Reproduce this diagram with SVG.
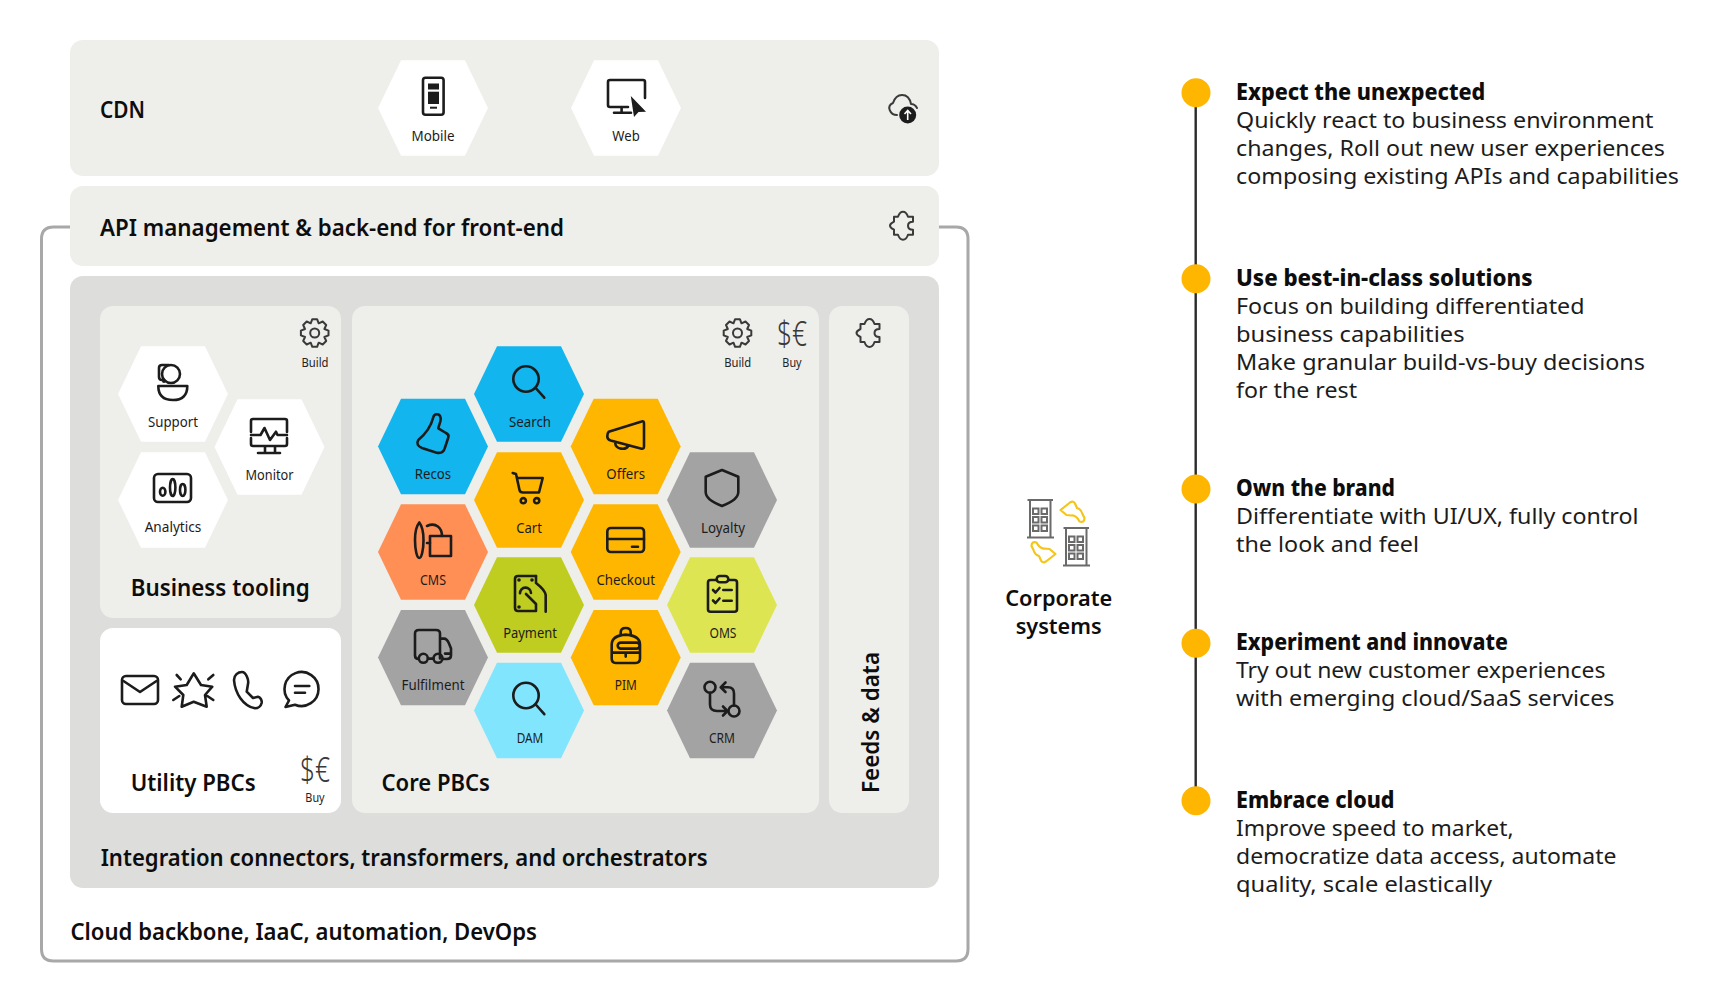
<svg xmlns="http://www.w3.org/2000/svg" xmlns:xlink="http://www.w3.org/1999/xlink" width="1730" height="998" viewBox="0 0 1730 998">
<style>
text{font-family:"Noto Sans","Open Sans","Liberation Sans",sans-serif;fill:#141414}
.h{font-size:23px;font-weight:600;fill:#0d0d0d}
.h2{font-size:22px;font-weight:600;fill:#0d0d0d}
.lab{font-size:14px;text-anchor:middle;fill:#1c1c1c}
.sm{font-size:12.5px;text-anchor:middle;fill:#222}
.t{font-size:22.5px;font-weight:800;fill:#0d0d0d}
.b{font-size:22.5px;fill:#1c1c1c}
.ic{fill:none;stroke:#1c1c1c;stroke-width:2.6;stroke-linecap:round;stroke-linejoin:round}
.ict{fill:none;stroke:#3a3a3a;stroke-width:2;stroke-linejoin:round;stroke-linecap:round}
.fd{fill:#1c1c1c;stroke:none}
.panel{fill:#eeeeeb}
.cur{font-size:35px;font-weight:300;fill:#3a3a3a;text-anchor:middle}
.bl{fill:none;stroke:#6a6a6a;stroke-width:2}
</style>
<defs>
<polygon id="hex" points="-55,0 -32,-47.7 32,-47.7 55,0 32,47.7 -32,47.7"/>
<path id="gear" class="ict" d="M13.8-2.4L13.8 2.4 9.7 4 11.5 8 8 11.5 4 9.7 2.4 13.8-2.4 13.8-4 9.7-8 11.5-11.5 8-9.7 4-13.8 2.4-13.8-2.4-9.7-4-11.5-8-8-11.5-4-9.7-2.4-13.8 2.4-13.8 4-9.7 8-11.5 11.5-8 9.7-4ZM4.5 0A4.5 4.5 0 1 1-4.5 0 4.5 4.5 0 1 1 4.5 0Z"/>
<path id="puzzle" class="ict" d="M-5-9C-4-12-2-14 0-14 2-14 4-12 5-9L10-9 10-4C6-4 5-2 5 0 5 2 6 4 10 4L10 9 5 9C4 12 2 14 0 14-2 14-4 12-5 9L-9 9-9 4C-11 3-13 2-13 0-13-2-11-3-9-4L-9-9Z"/>
<g id="search" class="ic"><circle cx="-3" cy="-15" r="12.7"/><path d="M6.7-6L15.3 3.7"/></g>
<g id="building"><path class="bl" d="M-9.5 0V37M11 0V37M-12.5 38H14.5"/><path class="bl" stroke-width="3" d="M-12 0.5H13.5"/><path class="bl" stroke-width="1.6" d="M-6.5 9h5.5v5.5h-5.5zM2 9h5.5v5.5h-5.5zM-6.5 17.5h5.5v5.5h-5.5zM2 17.5h5.5v5.5h-5.5zM-6.5 26h5.5v5.5h-5.5zM2 26h5.5v5.5h-5.5z"/></g>
<path id="hand" fill="none" stroke="#f5c518" stroke-width="2.2" stroke-linejoin="round" d="M1060.500 510L1070 502.500Q1073.500 500.500 1075 503.500L1077 508Q1081 509 1082.500 514L1084.500 518Q1084.500 523 1079.500 521.500 1076 515 1071.500 515.500L1066.500 515Z"/>
</defs>

<g id="connectors">
<path fill="none" stroke="#a8a8a8" stroke-width="3" d="M70 227H53.500Q41.500 227 41.500 239V949Q41.500 961 53.500 961H956Q968 961 968 949V239Q968 227 956 227H939"/>
<path fill="none" stroke="#2a2a2a" stroke-width="2.4" d="M1195.700 93V801"/>
</g>

<g id="cdn">
<rect class="panel" x="70" y="40" width="869" height="136" rx="13"/>
<text class="h" x="100" y="118" textLength="45" lengthAdjust="spacingAndGlyphs">CDN</text>
<g transform="translate(903 109)"><path class="ict" d="M-6 6C-13 6-17-3-10-6-8-12-5-14-1-14 4-14 7-10 8-5 11-5 13-3 14-1"/><circle class="fd" cx="4.700" cy="6" r="8.500"/><path fill="none" stroke="#fff" stroke-width="1.600" d="M4.700 11V2M1.500 5L4.700 1.500 8 5"/></g>
</g>
<g id="mobile" transform="translate(433 108)"><use href="#hex" fill="#fff"/>
<rect class="ic" x="-10" y="-30.300" width="20.600" height="37" rx="2.500"/><rect class="fd" x="-5" y="-24.500" width="11" height="6"/><rect class="fd" x="-5" y="-16.300" width="11" height="12.300"/><rect class="fd" x="-3" y="-1.300" width="7" height="2"/>
<text class="lab" x="0" y="32.500" textLength="43" lengthAdjust="spacingAndGlyphs">Mobile</text></g>
<g id="web" transform="translate(626 108)"><use href="#hex" fill="#fff"/>
<path class="ic" d="M19-10V-26Q19-28 17-28H-16Q-18-28-18-26V-3Q-18-1-16-1H2M-4.400-1V4.700M-12 4.700H5"/><path class="fd" d="M4.800-12L20 3.700 12.500 4 8 9Z"/>
<text class="lab" x="0" y="32.500" textLength="27.400" lengthAdjust="spacingAndGlyphs">Web</text></g>

<g id="api">
<rect class="panel" x="70" y="186" width="869" height="80" rx="13"/>
<text class="h" x="100" y="236" textLength="464" lengthAdjust="spacingAndGlyphs">API management &amp; back-end for front-end</text>
<use href="#puzzle" x="903" y="225.700"/>
</g>

<g id="integration">
<rect fill="#dddddb" x="70" y="276" width="869" height="612" rx="13"/>
<text class="h" x="100.700" y="866" textLength="607" lengthAdjust="spacingAndGlyphs">Integration connectors, transformers, and orchestrators</text>
</g>

<g id="business-tooling">
<rect class="panel" x="100" y="306" width="241" height="312" rx="13"/>
<use href="#gear" x="314.700" y="333"/>
<text class="sm" x="315" y="366.700" textLength="27" lengthAdjust="spacingAndGlyphs">Build</text>
<text class="h" x="130.700" y="596" textLength="179" lengthAdjust="spacingAndGlyphs">Business tooling</text>
</g>
<g id="support" transform="translate(173 394)"><use href="#hex" fill="#fff"/>
<g class="ic"><circle cx="-2" cy="-20" r="9"/><path d="M-4-29H-11Q-14-29-14-26V-17Q-14-14-11-14H-9M-14.700-8H14.300Q14.300 6 0 6-14.700 6-14.700-8Z"/></g><circle class="fd" cx="-9" cy="-13" r="2"/>
<text class="lab" x="0" y="32.700" textLength="50" lengthAdjust="spacingAndGlyphs">Support</text></g>
<g id="monitor" transform="translate(269.500 447)"><use href="#hex" fill="#fff"/>
<path class="ic" d="M-18.500-15V-26Q-18.500-28-16.500-28H15.500Q17.500-28 17.500-26V-15M-18.500-9V-3Q-18.500-1-16.500-1H15.500Q17.500-1 17.500-3V-9M-18.500-12H-9L-5-19 .5-7 6.500-15.300 8-12H17.500M-4.500-1V6M5.500-1V6M-11.500 6H10.500"/>
<text class="lab" x="0" y="33" textLength="48" lengthAdjust="spacingAndGlyphs">Monitor</text></g>
<g id="analytics" transform="translate(173 500)"><use href="#hex" fill="#fff"/>
<g class="ic"><rect x="-19" y="-26" width="37" height="28" rx="4"/><ellipse cx="-10.300" cy="-8.300" rx="2.700" ry="4"/><ellipse cx="-.3" cy="-12.500" rx="2.700" ry="8.500"/><ellipse cx="9.700" cy="-10" rx="2.700" ry="6"/></g>
<text class="lab" x="0" y="32" textLength="56.700" lengthAdjust="spacingAndGlyphs">Analytics</text></g>

<g id="utility-pbcs">
<rect fill="#fff" x="100" y="628" width="241" height="185" rx="13"/>
<g class="ic"><rect x="122" y="676" width="36" height="28" rx="4"/><path d="M123.500 681L140 692 156.500 681"/>
<path d="M193.700 673.300L201 685 212.300 686.700 205 695 206.700 706.700 193.700 701.700 181.700 706.700 183.300 695 175 686.700 186.700 685ZM176.700 675L180.700 679.300M213.300 675L208.300 679.300M213.300 700L207.300 696M173.300 700L179.300 696"/>
<path d="M234 680C234 675 238 672 242 672 246 672 249 680 248 684L246.700 691.700 253 698 258 696.700C260 697 262 700 261.700 702.700 261 706 258 708.300 255 708.300 243 706 235 693 234 680Z"/>
<path d="M289 700.500A17 17 0 1 1 295 704.700L285.500 707ZM295 686H309.300M295 692.700H305"/></g>
<text class="h" x="130.700" y="791" textLength="125" lengthAdjust="spacingAndGlyphs">Utility PBCs</text>
<text class="cur" x="315" y="782" textLength="30" lengthAdjust="spacingAndGlyphs">$€</text>
<text class="sm" x="315" y="801.700" textLength="19.300" lengthAdjust="spacingAndGlyphs">Buy</text>
</g>

<g id="core-pbcs">
<rect class="panel" x="352" y="306" width="467" height="507" rx="13"/>
<use href="#gear" x="737.500" y="333"/>
<text class="sm" x="737.700" y="366.700" textLength="27" lengthAdjust="spacingAndGlyphs">Build</text>
<text class="cur" x="792" y="346" textLength="30" lengthAdjust="spacingAndGlyphs">$€</text>
<text class="sm" x="792" y="366.700" textLength="19.300" lengthAdjust="spacingAndGlyphs">Buy</text>
<text class="h" x="381.500" y="791" textLength="108.500" lengthAdjust="spacingAndGlyphs">Core PBCs</text>
</g>
<g id="hex-search" transform="translate(529 394)"><use href="#hex" fill="#12b5ed"/><use href="#search"/><text class="lab" x="1" y="32.700" textLength="42" lengthAdjust="spacingAndGlyphs">Search</text></g>
<g id="hex-recos" transform="translate(433 446.500)"><use href="#hex" fill="#12b5ed"/><path class="ic" d="M-14.700-6.500C-8-12-2-20 .3-29.200 1-33 7-34 7.700-28.200 8-25 6-22 5.300-18.200L13-13.500C15-12.500 16-11 15.300-9L12 1C11 5 8 7 3.700 6.200L-11 1.500C-15 0-17-3-14.700-6.500Z"/><text class="lab" y="32.700" textLength="36.300" lengthAdjust="spacingAndGlyphs">Recos</text></g>
<g id="hex-cart" transform="translate(529 500)"><use href="#hex" fill="#ffb600"/><g class="ic"><path d="M-16.300-27L-13-26-9.500-10Q-9-7.500-6-7.500H10L13.700-22H-11"/><circle cx="-5.700" cy=".7" r="2.600"/><circle cx="7.700" cy=".7" r="2.600"/></g><text class="lab" y="32.700" textLength="25.700" lengthAdjust="spacingAndGlyphs">Cart</text></g>
<g id="hex-offers" transform="translate(625.700 446.500)"><use href="#hex" fill="#ffb600"/><path class="ic" d="M-17-14.800L16-25Q18.300-25.800 18.300-23V0Q18.300 3 15 2L-15-6Q-18.400-7-18.400-10-18.400-13.500-17-14.800ZM-10.500-3.500C-10 3 0 4 2.500-.5"/><text class="lab" y="32.700" textLength="38.700" lengthAdjust="spacingAndGlyphs">Offers</text></g>
<g id="hex-loyalty" transform="translate(722 500)"><use href="#hex" fill="#a3a3a3"/><path class="ic" d="M0-30L16.300-23.300V-8C16.300-2 8 3 0 6-8 3-16.300-2-16.300-8V-23.300Z"/><text class="lab" x="1" y="32.700" textLength="44" lengthAdjust="spacingAndGlyphs">Loyalty</text></g>
<g id="hex-cms" transform="translate(433 552)"><use href="#hex" fill="#ff8f55"/><g class="ic"><path d="M-13.700-29.500C-11-26-9.500-18-9.500-12-9.500-2-11.500 6-13.700 6-16 6-18-2-18-12-18-18-16.500-26-13.700-29.500Z"/><rect x="-3" y="-16" width="21" height="20"/><path d="M-6-26C3-30 9-24 9-16M-6-9H-3"/></g><text class="lab" y="32.700" textLength="26" lengthAdjust="spacingAndGlyphs">CMS</text></g>
<g id="hex-checkout" transform="translate(625.700 552)"><use href="#hex" fill="#ffb600"/><g class="ic"><rect x="-18.400" y="-24" width="36.700" height="24" rx="3.500"/><path d="M-18.400-13H18.300M6.300-5.300H12.300"/></g><text class="lab" y="32.700" textLength="58.600" lengthAdjust="spacingAndGlyphs">Checkout</text></g>
<g id="hex-payment" transform="translate(529 605)"><use href="#hex" fill="#bfcc20"/><g class="ic"><path d="M7-29H-11Q-14-29-14-26V3Q-14 6-11 6H7V-1L-3-11"/><path d="M-9-11.700A5.500 5.500 0 0 1 2-12"/><path d="M7-29V-22M7-22Q16-15 16.700-10V6.700"/></g><g class="fd"><circle cx="-10" cy="-25" r="1.800"/><circle cx="3" cy="-25" r="1.800"/><circle cx="-10" cy="2" r="1.800"/></g><text class="lab" x="1" y="32.700" textLength="53.700" lengthAdjust="spacingAndGlyphs">Payment</text></g>
<g id="hex-oms" transform="translate(722 605)"><use href="#hex" fill="#dde652"/><g class="ic"><path d="M-5.300-25H-11.500Q-14-25-14-22.500V4.200Q-14 6.700-11.500 6.700H12.500Q15 6.700 15 4.200V-22.500Q15-25 12.500-25H6.300"/><rect x="-5.300" y="-29" width="11.600" height="6.300" rx="3"/><path d="M-9-15L-6.500-12.500-2.500-17M-9-4.500L-6.500-2-2.500-6.500M1.300-15H9.700M1.300-4.300H9.700"/></g><text class="lab" x="1" y="32.700" textLength="27" lengthAdjust="spacingAndGlyphs">OMS</text></g>
<g id="hex-fulfilment" transform="translate(433 657.600)"><use href="#hex" fill="#a3a3a3"/><g class="ic"><path d="M-14.500 1.400Q-18 1.400-18-2V-24Q-18-27.600-14-27.600H3Q7-27.600 7-24V.8M-5 1H0.500M7-19H11Q14-19 16-14L18-9V-2Q18 1.400 14 1.400H10M12-4H18"/><circle cx="-9.700" cy=".7" r="4.500"/><circle cx="5" cy=".7" r="4.500"/></g><text class="lab" y="32.400" textLength="63" lengthAdjust="spacingAndGlyphs">Fulfilment</text></g>
<g id="hex-pim" transform="translate(625.700 657.600)"><use href="#hex" fill="#ffb600"/><g class="ic"><path d="M-14-13Q-14-22 0-23 14.300-22 14.300-13V1Q14.300 5.400 10 5.400H-10Q-14 5.400-14 1ZM-5-23V-25Q-5-29.600 0-29.600 5-29.600 5-25V-23M-14-5H14.300M0-5V-1"/><rect x="-8" y="-15" width="22" height="6" rx="3"/></g><text class="lab" y="32.400" textLength="22" lengthAdjust="spacingAndGlyphs">PIM</text></g>
<g id="hex-dam" transform="translate(529 710.500)"><use href="#hex" fill="#80e5fd"/><use href="#search"/><text class="lab" x="1" y="32.500" textLength="26.700" lengthAdjust="spacingAndGlyphs">DAM</text></g>
<g id="hex-crm" transform="translate(722 710.500)"><use href="#hex" fill="#a3a3a3"/><g class="ic"><circle cx="-12" cy="-23.200" r="5.500"/><circle cx="12" cy=".5" r="5.500"/><path d="M-12-17.700V-6Q-12 .5-5 .5H5.500M1-4L5.500 .5 1 5M12-5V-17Q12-23.200 6-23.200H-1M3.500-28L-1.300-23.200 3.500-18.500"/></g><text class="lab" y="32.500" textLength="26" lengthAdjust="spacingAndGlyphs">CRM</text></g>

<g id="feeds-data">
<rect class="panel" x="829" y="306" width="80" height="507" rx="13"/>
<use href="#puzzle" x="869.500" y="333"/>
<text class="h" transform="translate(879 793) rotate(-90)" textLength="141" lengthAdjust="spacingAndGlyphs">Feeds &amp; data</text>
</g>

<g id="corporate-systems">
<use href="#building" x="1039.500" y="499.500"/>
<use href="#building" x="1075.500" y="527.500"/>
<use href="#hand"/>
<use href="#hand" transform="rotate(180 1058 532)"/>
<text class="h2" x="1058.700" y="606" text-anchor="middle" textLength="107" lengthAdjust="spacingAndGlyphs">Corporate</text>
<text class="h2" x="1058.700" y="634" text-anchor="middle" textLength="86" lengthAdjust="spacingAndGlyphs">systems</text>
</g>

<g id="item-1">
<circle fill="#ffb600" cx="1196" cy="92.700" r="14.500"/>
<text class="t" x="1236" y="100" textLength="249.300" lengthAdjust="spacingAndGlyphs">Expect the unexpected</text>
<text class="b" x="1236" y="128" textLength="417.500" lengthAdjust="spacingAndGlyphs">Quickly react to business environment</text>
<text class="b" x="1236" y="156" textLength="429" lengthAdjust="spacingAndGlyphs">changes, Roll out new user experiences</text>
<text class="b" x="1236" y="184" textLength="443" lengthAdjust="spacingAndGlyphs">composing existing APIs and capabilities</text>
</g>
<g id="item-2">
<circle fill="#ffb600" cx="1196" cy="278.700" r="14.500"/>
<text class="t" x="1236" y="286" textLength="296.500" lengthAdjust="spacingAndGlyphs">Use best-in-class solutions</text>
<text class="b" x="1236" y="314" textLength="348.500" lengthAdjust="spacingAndGlyphs">Focus on building differentiated</text>
<text class="b" x="1236" y="342" textLength="228.500" lengthAdjust="spacingAndGlyphs">business capabilities</text>
<text class="b" x="1236" y="370" textLength="409" lengthAdjust="spacingAndGlyphs">Make granular build-vs-buy decisions</text>
<text class="b" x="1236" y="398" textLength="121" lengthAdjust="spacingAndGlyphs">for the rest</text>
</g>
<g id="item-3">
<circle fill="#ffb600" cx="1196" cy="489" r="14.500"/>
<text class="t" x="1236" y="496" textLength="159" lengthAdjust="spacingAndGlyphs">Own the brand</text>
<text class="b" x="1236" y="524" textLength="402.500" lengthAdjust="spacingAndGlyphs">Differentiate with UI/UX, fully control</text>
<text class="b" x="1236" y="552" textLength="183" lengthAdjust="spacingAndGlyphs">the look and feel</text>
</g>
<g id="item-4">
<circle fill="#ffb600" cx="1196" cy="643.300" r="14.500"/>
<text class="t" x="1236" y="650" textLength="272" lengthAdjust="spacingAndGlyphs">Experiment and innovate</text>
<text class="b" x="1236" y="678" textLength="369.500" lengthAdjust="spacingAndGlyphs">Try out new customer experiences</text>
<text class="b" x="1236" y="706" textLength="378.500" lengthAdjust="spacingAndGlyphs">with emerging cloud/SaaS services</text>
</g>
<g id="item-5">
<circle fill="#ffb600" cx="1196" cy="800.700" r="14.500"/>
<text class="t" x="1236" y="808" textLength="158.500" lengthAdjust="spacingAndGlyphs">Embrace cloud</text>
<text class="b" x="1236" y="836" textLength="277.500" lengthAdjust="spacingAndGlyphs">Improve speed to market,</text>
<text class="b" x="1236" y="864" textLength="380.500" lengthAdjust="spacingAndGlyphs">democratize data access, automate</text>
<text class="b" x="1236" y="892" textLength="256" lengthAdjust="spacingAndGlyphs">quality, scale elastically</text>
</g>

<g id="backbone">
<text class="h" x="70.500" y="940" textLength="466.500" lengthAdjust="spacingAndGlyphs">Cloud backbone, IaaC, automation, DevOps</text>
</g>
</svg>
